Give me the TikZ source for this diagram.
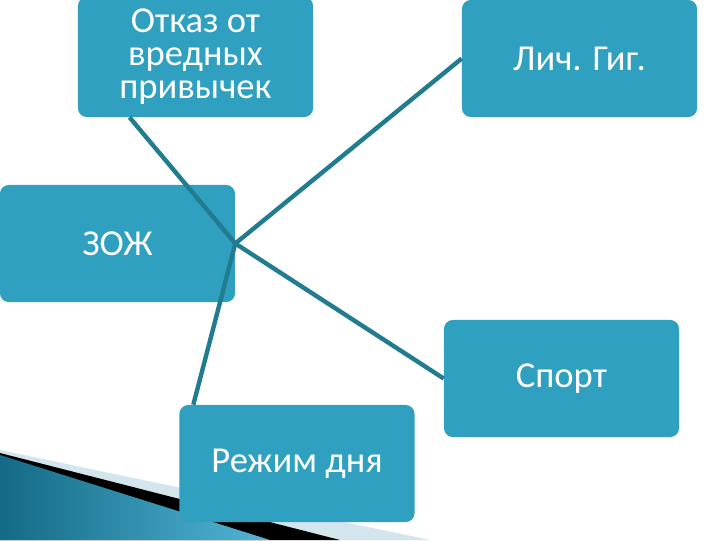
\documentclass[tikz,border=0pt]{standalone}
\usepackage{fontspec}
\setmainfont{Carlito}
\usepackage{tikz}
\usetikzlibrary{calc,positioning}
\definecolor{boxblue}{HTML}{2FA0BF}
\definecolor{linkteal}{HTML}{227C90}
\definecolor{paleblue}{HTML}{D3E6EE}
\definecolor{darkteal}{HTML}{136A86}
\definecolor{lightteal}{HTML}{52B6D6}

\begin{document}
\begin{tikzpicture}[x=0.025cm,y=-0.025cm,
  topic/.style={fill=boxblue,rounded corners=0.22cm,minimum width=5.875cm,minimum height=2.925cm,
    text=white,font=\fontsize{26}{23.5}\selectfont,align=center,inner sep=0pt},
  link/.style={draw=linkteal,line width=0.11cm}]
\useasboundingbox (0,0) rectangle (720,540);
% corner decoration
\fill[paleblue] (0,450) -- (430,540) -- (0,540) -- cycle;
\fill[black] (0,453) -- (340,540) -- (0,540) -- cycle;
\shade[left color=darkteal,right color=lightteal] (0,455) -- (270,540) -- (0,540) -- cycle;
% boxes
\node[topic,minimum height=3.0cm] (otkaz) at (195.5,57) {Отказ от\\вредных\\привычек};
\node[topic] (lich) at (579.5,58.5) {Лич. Гиг.};
\node[topic] (zozh) at (117.5,243.5) {ЗОЖ};
\node[topic] (sport) at (561.5,378.5) {Спорт};
\node[topic] (rezhim) at (297,463.5) {Режим дня};
% links
\draw[link] (zozh.east) -- ($(otkaz.south west)!0.22!(otkaz.south east)$);
\draw[link] (zozh.east) -- (lich.west);
\draw[link] (zozh.east) -- (sport.west);
\draw[link] (zozh.east) -- ($(rezhim.north west)!0.06!(rezhim.north east)$);
\end{tikzpicture}
\end{document}
